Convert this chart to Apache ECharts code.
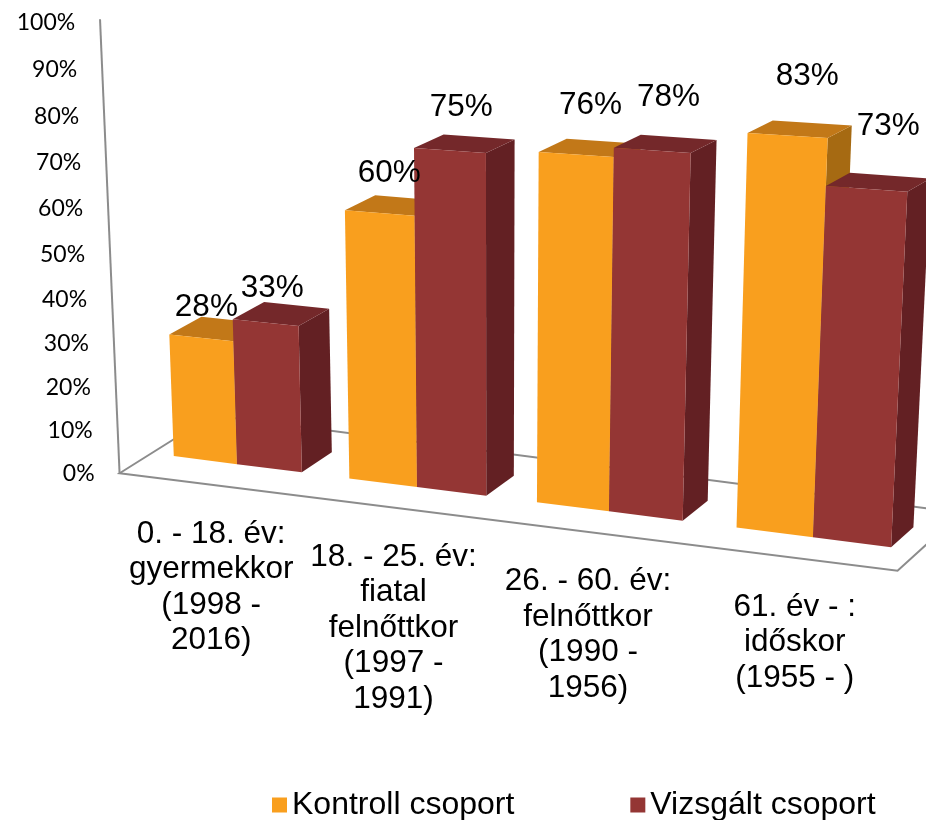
<html>
<head>
<meta charset="utf-8" />
<title>Korcsoportok</title>
<script src="https://cdn.jsdelivr.net/npm/echarts@6/dist/echarts.min.js"></script>
<style>
	body { margin: 0; background: #fff; }
	#chart { width: 926px; height: 820px; }
</style>
</head>
<body>
<div id="chart"></div>
<script type="text/javascript">
var categories = [
	'0. - 18. év:\ngyermekkor\n(1998 -\n2016)',
	'18. - 25. év:\nfiatal\nfelnőttkor\n(1997 -\n1991)',
	'26. - 60. év:\nfelnőttkor\n(1990 -\n1956)',
	'61. év - :\nidőskor\n(1955 - )'
];
var kontroll = [28, 60, 76, 83];
var vizsgalt = [33, 75, 78, 73];
var yTicks = [0, 10, 20, 30, 40, 50, 60, 70, 80, 90, 100];
var seriesNames = ['Kontroll csoport', 'Vizsgált csoport'];

// front, top, side
var orangeFaces = ['#F99F1E', '#C27818', '#A66A12'];
var redFaces = ['#943634', '#74282A', '#632023'];

var FONT = "'Liberation Sans', Arial, sans-serif";
var LEAN = 1.15e-4;

// fake perspective: u runs 0..1 along the categories, d is depth (0 = bar front, 1 = bar back)
function frontX(cs, u) {
	return cs.x + cs.width * u - 96 * u * (1 - u);
}
function ground(cs, u, d) {
	var x0 = frontX(cs, u);
	var y0 = 456 + 0.127 * (x0 - 173);
	var dx = 30 - 0.013 * (x0 - 300);
	return { x: x0 + d * dx, y: y0 - 20 * d, y0: y0 };
}
function lift(cs, g, d, hFlat) {
	var s = (4.34 + 0.0058 * (g.y0 - 456)) / (cs.height / 100);
	var h = hFlat * s * (1 - 0.019 * d);
	return [g.x + (g.x - 494) * LEAN * h, g.y - h];
}
function pt(g) {
	return [g.x, g.y];
}

function barRenderer(side, faces) {
	return function(params, api) {
		var cs = params.coordSys;
		var c = api.coord([api.value(0), api.value(1)]);
		var bw = api.size([1, 0])[0] / cs.width * 0.368;
		var uc = (c[0] - cs.x) / cs.width;
		var uL = side === 0 ? uc - bw : uc;
		var uR = uL + bw;
		var hFlat = cs.y + cs.height - c[1];
		var fbl = ground(cs, uL, 0), fbr = ground(cs, uR, 0);
		var bbr = ground(cs, uR, 1), bbl = ground(cs, uL, 1);
		var ftl = lift(cs, fbl, 0, hFlat), ftr = lift(cs, fbr, 0, hFlat);
		var btr = lift(cs, bbr, 1, hFlat), btl = lift(cs, bbl, 1, hFlat);
		var mx = (ftl[0] + ftr[0]) / 2, my = (ftl[1] + ftr[1]) / 2;
		return {
			type: 'group',
			children: [
				{ type: 'polygon', shape: { points: [pt(fbr), pt(bbr), btr, ftr] }, style: { fill: faces[2] } },
				{ type: 'polygon', shape: { points: [ftl, ftr, btr, btl] }, style: { fill: faces[1] } },
				{ type: 'polygon', shape: { points: [pt(fbl), pt(fbr), ftr, ftl] }, style: { fill: faces[0] } },
				{
					type: 'text', z2: 100,
					style: {
						text: api.value(1) + '%',
						x: mx + 5 + 0.025 * (mx - 200),
						y: my - 31 - 0.048 * (mx - 200),
						align: 'center', verticalAlign: 'middle',
						fill: '#000', fontSize: 31.5, fontFamily: FONT
					}
				}
			]
		};
	};
}

function frameRenderer(params, api) {
	var cs = params.coordSys;
	var v = api.value(1);
	var c = api.coord([0, v]);
	var corner = ground(cs, 0, -1);
	var f = (cs.y + cs.height - c[1]) / cs.height;
	var h = cs.height * (0.9424 * f + 0.0576 * f * f);
	var x = corner.x + (corner.x - 494) * LEAN * h;
	var children = [{
		type: 'text',
		style: {
			text: v + '%', x: x - 25, y: corner.y - h,
			align: 'right', verticalAlign: 'middle',
			fill: '#000', fontSize: 23, fontFamily: 'Lato'
		}
	}];
	if (params.dataIndex === 0) {
		var line = { stroke: '#8C8C8C', lineWidth: 2, fill: null };
		var top = cs.height + 3;
		children.push({
			type: 'polygon',
			shape: { points: [pt(corner), pt(ground(cs, 1, -1)), pt(ground(cs, 1, 1.9)), pt(ground(cs, 0, 1.9))] },
			style: line
		});
		children.push({
			type: 'line',
			shape: { x1: corner.x, y1: corner.y, x2: corner.x + (corner.x - 494) * LEAN * top, y2: corner.y - top },
			style: line
		});
	}
	return { type: 'group', children: children };
}

function categoryRenderer(params, api) {
	var cs = params.coordSys;
	var c = api.coord([api.value(0), 0]);
	var g = ground(cs, (c[0] - cs.x) / cs.width, -1);
	return {
		type: 'text',
		style: {
			text: categories[params.dataIndex],
			x: g.x + 5, y: g.y + 50 - 35.5 / 2,
			align: 'center', verticalAlign: 'top', lineHeight: 35.5,
			fill: '#000', fontSize: 31.5, fontFamily: FONT
		}
	};
}

var myChart = echarts.init(document.getElementById('chart'));
var option = {
	animation: false,
	backgroundColor: '#fff',
	grid: { left: 151.5, width: 768, top: 19, height: 451 },
	xAxis: { type: 'category', data: categories, show: false },
	yAxis: { type: 'value', min: 0, max: 100, show: false },
	legend: {
		data: seriesNames,
		left: 267, top: 784,
		icon: 'rect', itemWidth: 15, itemHeight: 15, itemGap: 116,
		textStyle: { fontSize: 32, fontFamily: FONT, color: '#000' }
	},
	series: [
		{
			type: 'custom', name: 'frame', z: 1, silent: true,
			renderItem: frameRenderer,
			data: yTicks.map(function(v) { return [0, v]; })
		},
		{
			type: 'custom', name: 'cats', z: 1, silent: true,
			renderItem: categoryRenderer,
			data: categories.map(function(cat, i) { return [i, 0]; })
		},
		{
			type: 'custom', name: seriesNames[0],
			itemStyle: { color: orangeFaces[0] },
			renderItem: barRenderer(0, orangeFaces),
			data: kontroll.map(function(v, i) { return [i, v]; })
		},
		{
			type: 'custom', name: seriesNames[1],
			itemStyle: { color: redFaces[0] },
			renderItem: barRenderer(1, redFaces),
			data: vizsgalt.map(function(v, i) { return [i, v]; })
		}
	]
};
myChart.setOption(option);
</script>
</body>
</html>
